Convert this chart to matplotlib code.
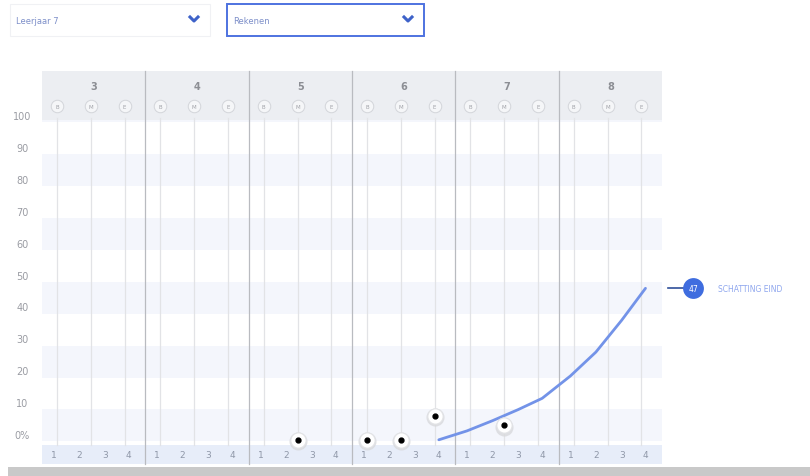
import matplotlib.pyplot as plt
from matplotlib.patches import Rectangle

# Data
groups = ["3", "4", "5", "6", "7", "8"]
moments = ["B", "M", "E"]
quarters = ["1", "2", "3", "4"]
y_ticks = [0, 10, 20, 30, 40, 50, 60, 70, 80, 90, 100]
y_tick_labels = ["0%", "10", "20", "30", "40", "50", "60", "70", "80", "90", "100"]

# toetsresultaten: (groep index, moment, score)
score_groups = [2, 3, 3, 3, 4]
score_moments = ["M", "B", "M", "E", "M"]
score_values = [-1.5, -1.5, -1.5, 6.0, 3.0]

# verwachte lijn: (groep index, kwartaal, waarde)
trend_groups = [3, 4, 4, 4, 4, 5, 5, 5, 5]
trend_quarters = [4, 1, 2, 3, 4, 1, 2, 3, 4]
trend_values = [-1.5, 1.3, 4.5, 8.0, 11.5, 18.5, 26.0, 36.0, 46.0]
end_value = 47
end_label = "SCHATTING EIND"

MOMENT_FRAC = {"B": 0.145, "M": 0.473, "E": 0.80}
QUARTER_FRAC = [0.113, 0.36, 0.61, 0.84]

GREY_TXT = "#9a9ca3"
LINE_BLUE = "#7393e8"
DARK_BLUE = "#3f6ddf"

fig = plt.figure(figsize=(8.1, 4.77), dpi=100)
ax = fig.add_axes([0, 0, 1, 1])
ax.set_xlim(-0.4065, 7.432)
ax.set_ylim(-12.85, 136.7)
ax.axis("off")

n = len(groups)

# horizontale banden
for lo in range(-2, 100, 20):
    ax.add_patch(Rectangle((0, lo), n, 10, color="#f4f6fc", lw=0, zorder=0))

# kop
ax.add_patch(Rectangle((0, 98.7), n, 15.4, color="#eceef2", lw=0, zorder=1))
# onderste band
ax.add_patch(Rectangle((0, -9.1), n, 6.0, color="#e7edf9", lw=0, zorder=1))

for g, name in enumerate(groups):
    ax.text(g + 0.5, 109.5, name, ha="center", va="center", fontsize=7,
            color="#8c8e94", fontweight="bold", zorder=3)
    for m in moments:
        x = g + MOMENT_FRAC[m]
        ax.plot([x, x], [-3.1, 99.5], color="#e2e3e6", lw=0.9, zorder=2)
        ax.plot(x, 103.0, "o", ms=9, color="#f5f6f8", mec="#d3d5da", mew=0.7,
                zorder=3)
        ax.text(x, 103.0, m, ha="center", va="center", fontsize=4,
                color="#a0a2a8", zorder=4)
    for q, lab in enumerate(quarters):
        ax.text(g + QUARTER_FRAC[q], -6.1, lab, ha="center", va="center",
                fontsize=6.5, color="#8f97a8", zorder=3)
    if g > 0:
        ax.plot([g, g], [-9.1, 114.1], color="#b9bbc0", lw=0.9, zorder=2)

# y-as
for v, lab in zip(y_ticks, y_tick_labels):
    ax.text(-0.19, v, lab, ha="center", va="center", fontsize=7,
            color=GREY_TXT)

# trendlijn
tx = [g + QUARTER_FRAC[q - 1] for g, q in zip(trend_groups, trend_quarters)]
ax.plot(tx, trend_values, color=LINE_BLUE, lw=2, solid_capstyle="round",
        zorder=5)

# scores
for g, m, v in zip(score_groups, score_moments, score_values):
    x = g + MOMENT_FRAC[m]
    ax.plot(x, v - 0.5, "o", ms=13, color="#d8d9dc", alpha=0.8, mec="none",
            zorder=6)
    ax.plot(x, v, "o", ms=11, color="white", mec="#e2e3e6", mew=0.8, zorder=7)
    ax.plot(x, v, "o", ms=3.5, color="black", zorder=8)

# eindschatting
ax.plot([6.06, 6.22], [end_value - 1, end_value - 1], color="#2f4f9a", lw=1.2,
        zorder=5)
ax.plot(6.30, end_value - 1, "o", ms=15, color=DARK_BLUE, mec="none", zorder=6)
ax.text(6.30, end_value - 1, str(end_value), ha="center", va="center",
        fontsize=5.5, color="white", zorder=7)
ax.text(6.54, end_value - 1, end_label, ha="left", va="center", fontsize=5.5,
        color="#8ea6ee", zorder=7)


# keuzemenu's
def dropdown(x0, w, label, edge, lw):
    box = Rectangle((x0 / 810, 1 - 37 / 477), w / 810, 32 / 477,
                    transform=fig.transFigure, fc="white", ec=edge, lw=lw,
                    zorder=10)
    fig.patches.append(box)
    fig.text((x0 + 6) / 810, 1 - 21 / 477, label, ha="left", va="center",
             fontsize=6, color="#7d8fc9", zorder=11)
    cx, cy = (x0 + w - 16) / 810, 1 - 20 / 477
    fig.lines.append(plt.Line2D([cx - 4 / 810, cx, cx + 4 / 810],
                                [cy + 2 / 477, cy - 2 / 477, cy + 2 / 477],
                                transform=fig.transFigure, color="#3e62c9",
                                lw=2.2, zorder=11))


dropdown(10, 200, "Leerjaar 7", "#f0f1f4", 0.8)
dropdown(227, 197, "Rekenen", "#4e72e0", 1.4)

# schuifbalk
fig.patches.append(Rectangle((8 / 810, 0), 802 / 810, 9 / 477,
                             transform=fig.transFigure, color="#c9c9c9",
                             lw=0))

fig.savefig("out.png", dpi=100)
